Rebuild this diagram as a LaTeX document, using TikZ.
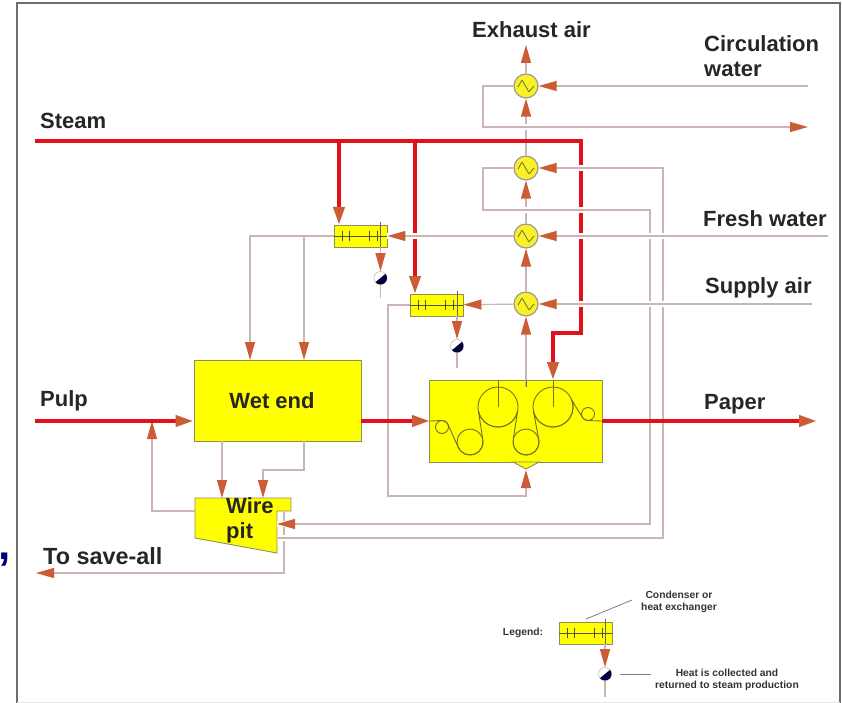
\documentclass[tikz,border=0pt]{standalone}
\usepackage{fontspec}
\setmainfont{Liberation Sans}
\usetikzlibrary{arrows.meta}
\definecolor{pipecol}{HTML}{CBB4B4}
\definecolor{tipcol}{HTML}{CC5C35}
\definecolor{steamcol}{HTML}{E2101A}
\definecolor{edgecol}{HTML}{8E8E58}
\definecolor{rollcol}{HTML}{72722A}
\definecolor{framecol}{HTML}{6E6E6E}
\definecolor{unitcol}{RGB}{255,255,0}
\definecolor{ringcol}{RGB}{250,240,40}
\definecolor{zigcol}{RGB}{110,110,40}

\begin{document}
\begin{tikzpicture}[x=1pt, y=-1pt,
  unit/.style={draw=edgecol, fill=unitcol, line width=0.9pt, inner sep=0pt},
  hxc/.style={unit, minimum width=53pt, minimum height=22pt},
  ring/.style={circle, draw=gray!80, fill=ringcol, line width=1.2pt, minimum size=24pt, inner sep=0pt},
  ball/.style={circle, draw=gray!50, fill=white, line width=0.6pt, minimum size=13pt, inner sep=0pt},
  roll/.style={circle, draw=rollcol, line width=0.9pt, inner sep=0pt},
  line/.style={draw=pipecol, line width=1.2pt},
  flow/.style={line, -{Triangle[length=18pt, width=10pt, color=tipcol]}},
  over/.style={preaction={draw=white, line width=6pt, -}},
  steam/.style={draw=steamcol, line width=4pt},
  steamflow/.style={steam, -{Triangle[length=18pt, width=11pt, color=tipcol]}},
  lab/.style={font=\fontsize{22}{25}\selectfont\bfseries, text=black!85, align=left, inner sep=0pt},
  leg/.style={font=\fontsize{10.3}{12.5}\selectfont\bfseries, text=black!80, align=center, inner sep=0pt}]
\useasboundingbox (0,0) rectangle (842,703);

% frame
\draw[framecol, line width=1.2pt] (17,703) -- (17,3) -- (840,3) -- (840,703);
\draw[gray!20, line width=0.8pt] (17,702) -- (840,702);
\node[font=\fontsize{44}{44}\selectfont\bfseries, text=blue!45!black, inner sep=0pt] (comma) at (5,560) {,};

% units
\node[unit, minimum width=167pt, minimum height=81pt] (wet) at (277.5,400.5) {};
\node[lab] (wetlab) at (272,401) {Wet end};
\node[unit, minimum width=173pt, minimum height=82pt] (mach) at (516,421) {};
\filldraw[draw=edgecol, fill=unitcol, line width=0.9pt] (513,462) -- (526,469) -- (539,462) -- cycle;
\filldraw[draw=edgecol, fill=unitcol, line width=0.9pt] (195,498) -- (291,498) -- (291,511) -- (277,511) -- (277,553) -- (195,538) -- cycle;
\node[lab, anchor=north west] (pit) at (226,497) {Wire\\pit};
\node[ring] (hxa) at (526,86) {};
\node[ring] (hxb) at (526,168) {};
\node[ring] (hxcw) at (526,236) {};
\node[ring] (hxd) at (526,304) {};
\node[hxc] (conda) at (360.5,236) {};
\node[hxc] (condb) at (436.5,305) {};
\node[hxc] (condl) at (585.5,633) {};
\node[ball] (balla) at (380.5,278) {};
\node[ball] (ballb) at (457,346) {};
\node[ball] (balll) at (605,674) {};

% free ends
\coordinate (steamin) at (35,141);
\coordinate (pulpin) at (35,421);
\coordinate (wetout) at (361,421);
\coordinate (machin) at (430,421);
\coordinate (machout) at (602,421);
\coordinate (paperout) at (817,421);
\coordinate (machtop) at (553,380);
\coordinate (airin) at (526,387);
\coordinate (exhaust) at (526,45);
\coordinate (circin) at (808,86);
\coordinate (circout) at (808,127);
\coordinate (freshin) at (828,236);
\coordinate (supplyin) at (812,304);
\coordinate (weta) at (250,360);
\coordinate (wetb) at (304,360);
\coordinate (wetc) at (222,441);
\coordinate (wetd) at (304,441);
\coordinate (pita) at (222,498);
\coordinate (pitb) at (263,498);
\coordinate (pitc) at (277,524);
\coordinate (pitd) at (278,538);
\coordinate (pite) at (195,511);
\coordinate (pitf) at (284,512);
\coordinate (pulpjoin) at (152,421);
\coordinate (saveall) at (36,573);
\coordinate (machlow) at (526,470);
\coordinate (tailb) at (457,368);
\coordinate (taila) at (380.5,298);
\coordinate (taill) at (605,697);

% air path
\draw[flow] (hxa) -- (exhaust);
\draw[flow] (hxb) -- (hxa);
\draw[flow] (hxcw) -- (hxb);
\draw[flow] (hxd) -- (hxcw);
\draw[flow] (airin) -- (hxd);

% steam
\draw[steamflow] (steamin) -- (581,141) -- (581,333) -- (553,333) -- (machtop);
\draw[steamflow] (339,141) -- (339,225);
\draw[steamflow] (415,141) -- (415,294);

% water
\draw[flow, over] (circin) -- (hxa);
\draw[flow, over] (hxa) -- (483,86) -- (483,127) -- (circout);
\draw[flow] (pitf) -- (284,573) -- (saveall);
\draw[flow, over] (pitd) -- (663,538) -- (663,168) -- (hxb);
\draw[flow, over] (hxb) -- (483,168) -- (483,210) -- (650,210) -- (650,524) -- (pitc);
\draw[flow, over] (freshin) -- (hxcw);
\draw[flow, over] (supplyin) -- (hxd);
\draw[flow, over] (hxcw) -- (conda);
\draw[flow] (hxd) -- (condb);
\draw[flow] (conda) -| (weta);
\draw[flow] (304,236) -- (wetb);
\draw[flow] (condb) -| (388,496) -| (machlow);
\draw[flow] (wetc) -- (pita);
\draw[flow] (wetd) |- (263,470) -- (pitb);
\draw[flow] (pite) -| (pulpjoin);

% steam and pulp mains
\draw[steamflow] (pulpin) -- (wet.west |- pulpin);
\draw[steamflow] (wetout) -- (machin);
\draw[steamflow] (machout) -- (paperout);

% condensers
\foreach \c/\bl in {conda/balla, condb/ballb, condl/balll} {
  \draw[edgecol!60!black, line width=0.7pt] (\c.west) -- (\c.east);
  \foreach \dx in {9,16,36,44} {
    \draw[black!70, line width=0.8pt] ([xshift=\dx pt, yshift=-5pt]\c.west) -- ([xshift=\dx pt, yshift=5pt]\c.west);
  }
  \draw[black!60, line width=0.7pt] (\bl |- \c.north) ++(0,-3) -- (\bl |- \c.south);
  \draw[flow] (\bl |- \c.south) -- (\bl);
  \fill[blue!25!black] ([shift={(40:6.5pt)}]\bl.center) arc[start angle=40, end angle=-140, radius=6.5pt] -- cycle;
}
\draw[line] (balla) -- (taila);
\draw[line] (ballb) -- (tailb);
\draw[line] (balll) -- (taill);

% rings
\foreach \h in {hxa, hxb, hxcw, hxd} {
  \draw[zigcol, line width=0.8pt, rounded corners=0.5pt] (\h.center) ++(-8,1) -- ++(4,-7) -- ++(7,12) -- ++(5,-6);
}

% rollers
\node[roll, minimum size=13pt] (rolla) at (442,427) {};
\node[roll, minimum size=26pt] (rollb) at (470,442) {};
\node[roll, minimum size=40pt] (rollc) at (498,407) {};
\node[roll, minimum size=26pt] (rolld) at (526,442) {};
\node[roll, minimum size=40pt] (rolle) at (553,407) {};
\node[roll, minimum size=13pt] (rollf) at (588,414) {};
\draw[rollcol, line width=0.9pt] (rollc.center) -- (rollc.center |- mach.north);
\draw[rollcol, line width=0.9pt] (rolle.center) -- (rolle.center |- mach.north);
\draw[rollcol, line width=0.9pt] (airin) -- (airin |- mach.north);
\draw[rollcol, line width=0.9pt] (machin) -- (442,420.5) arc[start angle=90, end angle=20, radius=6.5pt]
  -- (457.8,446.4) arc[start angle=200, end angle=370, radius=13pt]
  -- (478.3,410.5) arc[start angle=190, end angle=350, radius=20pt]
  -- (513.2,439.7) arc[start angle=170, end angle=370, radius=13pt]
  -- (533.3,410.5) arc[start angle=190, end angle=380, radius=20pt]
  -- (582.4,417.3) arc[start angle=210, end angle=270, radius=6.5pt] -- (machout);

% labels
\node[lab, anchor=west] (steamlab) at (40,121) {Steam};
\node[lab, anchor=west] (pulplab) at (40,401) {Pulp};
\node[lab, anchor=west, font=\fontsize{23.4}{25}\selectfont\bfseries] (savelab) at (43,556) {To save-all};
\node[lab, anchor=west] (paperlab) at (704,404) {Paper};
\node[lab, anchor=west] (exhaustlab) at (472,30) {Exhaust air};
\node[lab, anchor=west] (circlab) at (704,56) {Circulation\\water};
\node[lab, anchor=west] (freshlab) at (703,219) {Fresh water};
\node[lab, anchor=west] (supplylab) at (705,288) {Supply air};

% legend
\node[leg] (legendlab) at (523,633) {Legend:};
\node[leg] (condlab) at (679,602) {Condenser or\\heat exchanger};
\node[leg] (heatlab) at (727,680) {Heat is collected and\\returned to steam production};
\coordinate (conduit) at (586,619);
\coordinate (heatgap) at (651,674);
\draw[gray, line width=0.8pt] (conduit) -- (632,600);
\draw[gray, line width=0.8pt] (620,674) -- (heatgap);
\end{tikzpicture}
\end{document}
